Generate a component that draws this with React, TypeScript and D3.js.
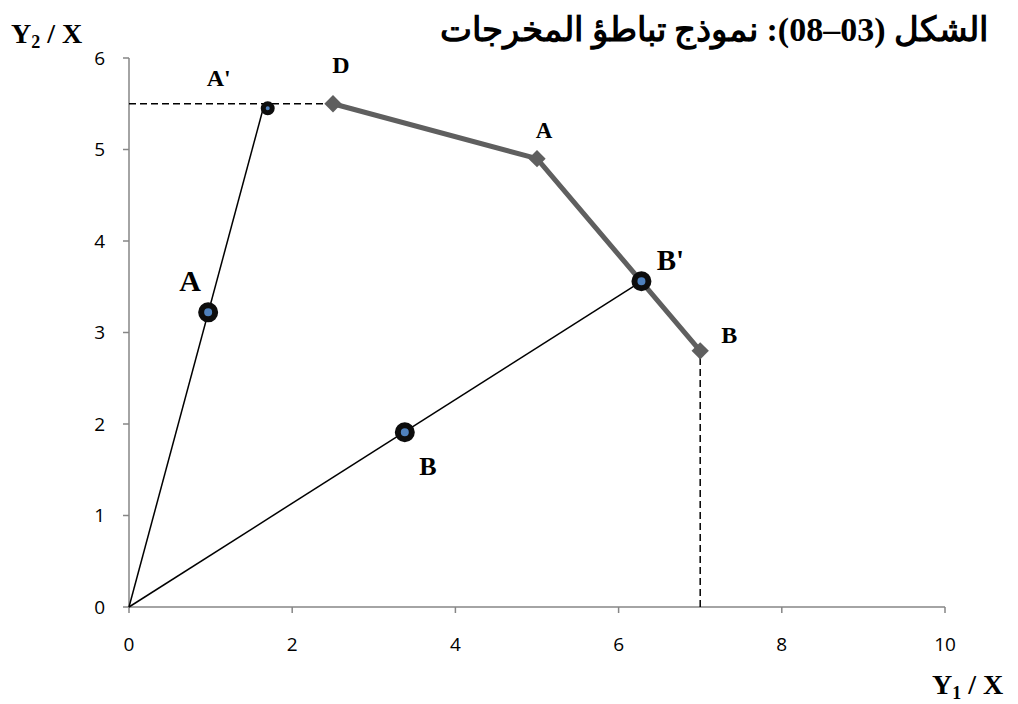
import React from "react";
import * as d3 from "d3";

// Output-congestion diagram: two rays from the origin, the production frontier D–A–B
const xTicks = [0, 2, 4, 6, 8, 10];
const yTicks = [0, 1, 2, 3, 4, 5, 6];

// frontier points (Y1/X, Y2/X)
const frontierNames = ["D", "A", "B"];
const frontierX = [2.5, 5, 7];
const frontierY = [5.5, 4.9, 2.8];

// rays from the origin
const rayAEnd = [1.66, 5.5];
const rayBEnd = [6.28, 3.56];

// observed units on the rays
const unitNames = ["A", "A'", "B", "B'"];
const unitX = [0.97, 1.7, 3.38, 6.28];
const unitY = [3.22, 5.45, 1.91, 3.56];

// reference levels (dashed)
const dashLevelY = 5.5;
const dashLevelX = 7;

const title = "الشكل (03–08): نموذج تباطؤ المخرجات";

export default function App() {
  const W = 1018;
  const H = 704;
  const x = d3.scaleLinear().domain([0, 10]).range([129, 945]);
  const y = d3.scaleLinear().domain([0, 6]).range([607, 58]);
  const line = d3
    .line<[number, number]>()
    .x((d) => x(d[0]))
    .y((d) => y(d[1]));

  const axisColor = "#868686";
  const tickFont = "'Open Sans', 'Liberation Sans', sans-serif";
  const serif = "'Liberation Serif', 'DejaVu Serif', serif";

  const frontier: [number, number][] = frontierX.map((v, i) => [v, frontierY[i]]);

  // label placement relative to each marker (pixels)
  const frontierLabel = [
    { dx: 8, dy: -31, size: 24 },
    { dx: 7, dy: -21, size: 23 },
    { dx: 29, dy: -8, size: 24 },
  ];
  const unitStyle = [
    { r: 7, sw: 6, dx: -18, dy: -21, size: 30 },
    { r: 4.5, sw: 5, dx: -49, dy: -22, size: 24 },
    { r: 7, sw: 6, dx: 23, dy: 43, size: 26 },
    { r: 7, sw: 6, dx: 29, dy: -11, size: 29 },
  ];

  // square marker turned 45 degrees
  const diamond = d3.symbol().type(d3.symbolSquare).size(150)();

  return (
    <svg
      width={W}
      height={H}
      style={{ position: "absolute", left: 0, top: 0, background: "#fff" }}
    >
      {/* title */}
      <text
        x={988}
        y={41}
        direction="rtl"
        textAnchor="start"
        fontFamily={serif}
        fontWeight="bold"
        fontSize={34}
        fill="#000"
      >
        {title}
      </text>

      {/* axes */}
      <line x1={x(0)} x2={x(0)} y1={y(0)} y2={y(6)} stroke={axisColor} strokeWidth={1.5} />
      <line x1={x(0)} x2={x(10)} y1={y(0)} y2={y(0)} stroke={axisColor} strokeWidth={1.5} />
      {yTicks.map((t) => (
        <g key={"y" + t}>
          <line x1={x(0) - 6} x2={x(0)} y1={y(t)} y2={y(t)} stroke={axisColor} strokeWidth={1.5} />
          <text
            x={x(0) - 24}
            y={y(t)}
            dy="0.35em"
            textAnchor="end"
            fontFamily={tickFont}
            fontSize={19}
            fill="#000"
          >
            {t}
          </text>
        </g>
      ))}
      {xTicks.map((t) => (
        <g key={"x" + t}>
          <line x1={x(t)} x2={x(t)} y1={y(0)} y2={y(0) + 6} stroke={axisColor} strokeWidth={1.5} />
          <text
            x={x(t)}
            y={y(0) + 44}
            textAnchor="middle"
            fontFamily={tickFont}
            fontSize={19}
            fill="#000"
          >
            {t}
          </text>
        </g>
      ))}

      {/* axis titles */}
      <text x={11} y={43} fontFamily={serif} fontWeight="bold" fontSize={28} fill="#000">
        Y<tspan fontSize={18} dy={5}>2</tspan>
        <tspan dy={-5}> / X</tspan>
      </text>
      <text x={932} y={694} fontFamily={serif} fontWeight="bold" fontSize={28} fill="#000">
        Y<tspan fontSize={18} dy={5}>1</tspan>
        <tspan dy={-5}> / X</tspan>
      </text>

      {/* dashed reference lines */}
      <path
        d={line([[0, dashLevelY], [frontierX[0], dashLevelY]]) || ""}
        fill="none"
        stroke="#000"
        strokeWidth={1.5}
        strokeDasharray="7,4"
      />
      <path
        d={line([[dashLevelX, 0], [dashLevelX, frontierY[2]]]) || ""}
        fill="none"
        stroke="#000"
        strokeWidth={1.5}
        strokeDasharray="7,4"
      />

      {/* rays */}
      <path d={line([[0, 0], rayAEnd as [number, number]]) || ""} fill="none" stroke="#000" strokeWidth={1.5} />
      <path d={line([[0, 0], rayBEnd as [number, number]]) || ""} fill="none" stroke="#000" strokeWidth={1.5} />

      {/* frontier */}
      <path d={line(frontier) || ""} fill="none" stroke="#5f5f5f" strokeWidth={5} strokeLinejoin="round" />
      {frontier.map((p, i) => (
        <g key={"f" + i}>
          <path
            d={diamond || ""}
            transform={`translate(${x(p[0])},${y(p[1])}) rotate(45)`}
            fill="#5f5f5f"
          />
          <text
            x={x(p[0]) + frontierLabel[i].dx}
            y={y(p[1]) + frontierLabel[i].dy}
            textAnchor="middle"
            fontFamily={serif}
            fontWeight="bold"
            fontSize={frontierLabel[i].size}
            fill="#000"
          >
            {frontierNames[i]}
          </text>
        </g>
      ))}

      {/* units */}
      {unitNames.map((n, i) => (
        <g key={"u" + i}>
          <circle
            cx={x(unitX[i])}
            cy={y(unitY[i])}
            r={unitStyle[i].r}
            fill="#4f81bd"
            stroke="#0d0d0d"
            strokeWidth={unitStyle[i].sw}
          />
          <text
            x={x(unitX[i]) + unitStyle[i].dx}
            y={y(unitY[i]) + unitStyle[i].dy}
            textAnchor="middle"
            fontFamily={serif}
            fontWeight="bold"
            fontSize={unitStyle[i].size}
            fill="#000"
          >
            {n}
          </text>
        </g>
      ))}
    </svg>
  );
}
